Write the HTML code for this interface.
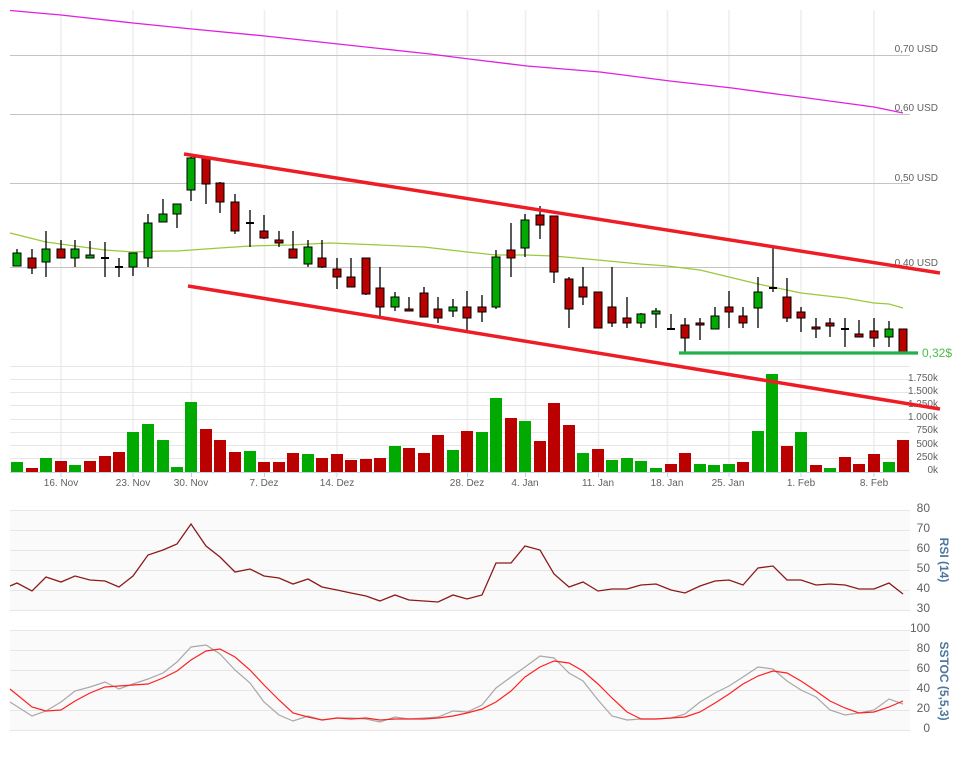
<!DOCTYPE html>
<html><head><meta charset="utf-8"><style>
html,body{margin:0;padding:0;background:#fff;}
svg{display:block;font-family:"Liberation Sans","DejaVu Sans",sans-serif;}
</style></head><body>
<svg width="968" height="765" viewBox="0 0 968 765" xmlns="http://www.w3.org/2000/svg">
<rect x="0" y="0" width="968" height="765" fill="#fff"/>
<!-- vertical grid -->
<g stroke="#eeeeee" stroke-width="1.5">
<path d="M61 10V472M133 10V472M191.5 10V472M264.5 10V472M337 10V472M467.5 10V472M525.5 10V472M598.5 10V472M667.5 10V472M729 10V472M801 10V472M874 10V472"/>
</g>
<!-- price grid -->
<g stroke="#c4c4c4" stroke-width="1">
<path d="M10 55.5H910M10 114.5H910M10 183.5H910M10 267.5H910"/>
</g>
<g fill="#606060" font-size="10">
<text x="938" y="52" text-anchor="end">0,70 USD</text>
<text x="938" y="111" text-anchor="end">0,60 USD</text>
<text x="938" y="181" text-anchor="end">0,50 USD</text>
<text x="938" y="266" text-anchor="end">0,40 USD</text>
</g>
<!-- volume grid -->
<g stroke="#e6e6e6" stroke-width="1">
<path d="M10 366.5H910M10 379.5H910M10 392.5H910M10 405.5H910M10 419.5H910M10 432.5H910M10 445.5H910M10 458.5H910"/>
</g>
<path d="M10 472.5H910" stroke="#c0d0e0" stroke-width="1"/>
<g stroke="#c0d0e0" stroke-width="1">
<path d="M61 472V477M133 472V477M191.5 472V477M264.5 472V477M337 472V477M467.5 472V477M525.5 472V477M598.5 472V477M667.5 472V477M729 472V477M801 472V477M874 472V477"/>
</g>
<g fill="#606060" font-size="10" text-anchor="end">
<text x="938" y="381">1.750k</text>
<text x="938" y="394">1.500k</text>
<text x="938" y="407">1.250k</text>
<text x="938" y="420">1.000k</text>
<text x="938" y="433">750k</text>
<text x="938" y="447">500k</text>
<text x="938" y="460">250k</text>
<text x="938" y="473">0k</text>
</g>
<!-- volume bars -->
<g fill="#00aa00">
<rect x="11" y="462" width="12" height="10"/>
<rect x="40" y="458" width="12" height="14"/>
<rect x="69" y="465" width="12" height="7"/>
<rect x="127" y="432" width="12" height="40"/>
<rect x="142" y="424" width="12" height="48"/>
<rect x="157" y="440" width="12" height="32"/>
<rect x="171" y="467" width="12" height="5"/>
<rect x="185" y="402" width="12" height="70"/>
<rect x="244" y="451" width="12" height="21"/>
<rect x="302" y="454" width="12" height="18"/>
<rect x="389" y="446" width="12" height="26"/>
<rect x="447" y="450" width="12" height="22"/>
<rect x="476" y="432" width="12" height="40"/>
<rect x="490" y="398" width="12" height="74"/>
<rect x="519" y="421" width="12" height="51"/>
<rect x="577" y="453" width="12" height="19"/>
<rect x="606" y="460" width="12" height="12"/>
<rect x="621" y="458" width="12" height="14"/>
<rect x="635" y="461" width="12" height="11"/>
<rect x="650" y="468" width="12" height="4"/>
<rect x="694" y="464" width="12" height="8"/>
<rect x="708" y="465" width="12" height="7"/>
<rect x="723" y="464" width="12" height="8"/>
<rect x="752" y="431" width="12" height="41"/>
<rect x="766" y="374" width="12" height="98"/>
<rect x="795" y="432" width="12" height="40"/>
<rect x="824" y="468" width="12" height="4"/>
<rect x="883" y="462" width="12" height="10"/>
</g>
<g fill="#bb0000">
<rect x="26" y="468" width="12" height="4"/>
<rect x="55" y="461" width="12" height="11"/>
<rect x="84" y="461" width="12" height="11"/>
<rect x="99" y="456" width="12" height="16"/>
<rect x="113" y="452" width="12" height="20"/>
<rect x="200" y="429" width="12" height="43"/>
<rect x="214" y="440" width="12" height="32"/>
<rect x="229" y="452" width="12" height="20"/>
<rect x="258" y="462" width="12" height="10"/>
<rect x="273" y="462" width="12" height="10"/>
<rect x="287" y="453" width="12" height="19"/>
<rect x="316" y="458" width="12" height="14"/>
<rect x="331" y="454" width="12" height="18"/>
<rect x="345" y="460" width="12" height="12"/>
<rect x="360" y="459" width="12" height="13"/>
<rect x="374" y="458" width="12" height="14"/>
<rect x="403" y="448" width="12" height="24"/>
<rect x="418" y="453" width="12" height="19"/>
<rect x="432" y="435" width="12" height="37"/>
<rect x="461" y="431" width="12" height="41"/>
<rect x="505" y="418" width="12" height="54"/>
<rect x="534" y="441" width="12" height="31"/>
<rect x="548" y="403" width="12" height="69"/>
<rect x="563" y="425" width="12" height="47"/>
<rect x="592" y="449" width="12" height="23"/>
<rect x="665" y="464" width="12" height="8"/>
<rect x="679" y="453" width="12" height="19"/>
<rect x="737" y="462" width="12" height="10"/>
<rect x="781" y="446" width="12" height="26"/>
<rect x="810" y="465" width="12" height="7"/>
<rect x="839" y="457" width="12" height="15"/>
<rect x="853" y="464" width="12" height="8"/>
<rect x="868" y="454" width="12" height="18"/>
<rect x="897" y="440" width="12" height="32"/>
</g>
<!-- x labels -->
<g fill="#606060" font-size="10" text-anchor="middle">
<text x="61" y="486">16. Nov</text>
<text x="133" y="486">23. Nov</text>
<text x="191" y="486">30. Nov</text>
<text x="264" y="486">7. Dez</text>
<text x="337" y="486">14. Dez</text>
<text x="467" y="486">28. Dez</text>
<text x="525" y="486">4. Jan</text>
<text x="598" y="486">11. Jan</text>
<text x="667" y="486">18. Jan</text>
<text x="728" y="486">25. Jan</text>
<text x="801" y="486">1. Feb</text>
<text x="874" y="486">8. Feb</text>
</g>
<!-- magenta long SMA -->
<polyline fill="none" stroke="#e020e0" stroke-width="1.3" points="10,10.5 61,15 133,23 192,29 265,36 338,44 430,54 469,59 527,66 600,72 670,81 732,88 784,95 800,97 874,107 903,113"/>
<!-- green SMA -->
<polyline fill="none" stroke="#99c93a" stroke-width="1.2" points="10,233 30,238 46,242 75,246 105,250 133,252 163,251 177,251 220,248 250,246 290,245 330,243 380,245 424,247 467,252 496,255 525,255 554,256 598,260 640,264 667,266 700,270 729,277 758,284 787,290 801,293 845,298 874,303 889,304 903,308"/>
<!-- wicks -->
<path fill="none" stroke="#000" stroke-width="1.3" d="M17 249V266M32 249V274M46 231V277M61 240V258M75 240V267M90 241V258M105 242V277M119 258V277M133 253V276M148 214V267M163 199V222M177 204V228M191 157V201M206 157V204M220 182V213M235 194V234M250 210V247M264 215V239M279 231V247M293 231V258M308 240V267M322 240V268M337 258V289M351 258V287M366 258V295M380 267V316M395 292V311M409 297V311M424 287V317M438 297V323M453 299V317M467 291V330M482 295V322M496 250V309M511 223V277M525 214V257M540 206V239M554 216V283M569 277V328M583 267V305M598 292V328M612 267V327M627 297V328M641 313V328M656 308V328M671 314V329M685 318V353M700 318V340M715 307V329M729 291V328M743 307V328M758 277V328M773 248V292M787 278V322M801 307V332M816 318V338M830 318V337M845 318V347M859 320V337M874 318V347M889 321V347"/>
<path fill="none" stroke="#000" stroke-width="2" d="M101 258H109M115 267H123M246 223H254M667 329H675M769 288H777M841 329H849"/>
<!-- green bodies -->
<g fill="#00aa00" stroke="#000" stroke-width="1">
<rect x="13" y="253" width="8" height="13"/>
<rect x="42" y="249" width="8" height="13"/>
<rect x="71" y="249" width="8" height="9"/>
<rect x="86" y="255" width="8" height="3"/>
<rect x="129" y="253" width="8" height="14"/>
<rect x="144" y="223" width="8" height="35"/>
<rect x="159" y="214" width="8" height="8"/>
<rect x="173" y="204" width="8" height="10"/>
<rect x="187" y="158" width="8" height="32"/>
<rect x="304" y="247" width="8" height="17"/>
<rect x="391" y="297" width="8" height="10"/>
<rect x="449" y="307" width="8" height="4"/>
<rect x="492" y="257" width="8" height="50"/>
<rect x="521" y="220" width="8" height="28"/>
<rect x="637" y="314" width="8" height="9"/>
<rect x="652" y="311" width="8" height="3"/>
<rect x="711" y="316" width="8" height="13"/>
<rect x="754" y="292" width="8" height="16"/>
<rect x="885" y="329" width="8" height="8"/>
</g>
<!-- red bodies -->
<g fill="#bb0000" stroke="#000" stroke-width="1">
<rect x="28" y="258" width="8" height="10"/>
<rect x="57" y="249" width="8" height="9"/>
<rect x="202" y="158" width="8" height="26"/>
<rect x="216" y="183" width="8" height="19"/>
<rect x="231" y="202" width="8" height="29"/>
<rect x="260" y="231" width="8" height="7"/>
<rect x="275" y="240" width="8" height="3"/>
<rect x="289" y="249" width="8" height="9"/>
<rect x="318" y="258" width="8" height="9"/>
<rect x="333" y="269" width="8" height="8"/>
<rect x="347" y="277" width="8" height="10"/>
<rect x="362" y="258" width="8" height="36"/>
<rect x="376" y="288" width="8" height="19"/>
<rect x="405" y="309" width="8" height="2"/>
<rect x="420" y="293" width="8" height="24"/>
<rect x="434" y="309" width="8" height="9"/>
<rect x="463" y="307" width="8" height="11"/>
<rect x="478" y="307" width="8" height="5"/>
<rect x="507" y="250" width="8" height="8"/>
<rect x="536" y="215" width="8" height="10"/>
<rect x="550" y="216" width="8" height="56"/>
<rect x="565" y="279" width="8" height="30"/>
<rect x="579" y="287" width="8" height="10"/>
<rect x="594" y="292" width="8" height="36"/>
<rect x="608" y="307" width="8" height="16"/>
<rect x="623" y="318" width="8" height="5"/>
<rect x="681" y="325" width="8" height="13"/>
<rect x="696" y="323" width="8" height="2"/>
<rect x="725" y="307" width="8" height="5"/>
<rect x="739" y="316" width="8" height="7"/>
<rect x="783" y="297" width="8" height="21"/>
<rect x="797" y="312" width="8" height="6"/>
<rect x="812" y="327" width="8" height="2"/>
<rect x="826" y="323" width="8" height="3"/>
<rect x="855" y="334" width="8" height="3"/>
<rect x="870" y="331" width="8" height="7"/>
<rect x="899" y="329" width="8" height="23"/>
</g>
<!-- channel lines -->
<g stroke="#ee1c25" stroke-width="3.5" stroke-linecap="butt">
<line x1="184" y1="154" x2="940" y2="273"/>
<line x1="188" y1="286" x2="940" y2="409"/>
</g>
<!-- support line -->
<line x1="679" y1="353" x2="918" y2="353" stroke="#22b14c" stroke-width="3.3"/>
<text x="922" y="357" fill="#4cbb4c" font-size="12">0,32$</text>

<!-- RSI panel -->
<rect x="10" y="510" width="900" height="101" fill="#fafafa"/>
<g stroke="#e6e6e6" stroke-width="1">
<path d="M10 510.5H910M10 530.5H910M10 550.5H910M10 570.5H910M10 590.5H910M10 610.5H910"/>
</g>
<polyline fill="none" stroke="#8b1a1a" stroke-width="1.3" points="10,586 17,583 32,591 46,577 61,582 75,576 90,580 105,581 119,587 133,576 148,555 163,550 177,544 191,524 206,546 220,557 235,572 250,569 264,576 279,578 293,584 308,579 322,587 337,590 351,593 366,596 380,601 395,595 409,600 424,601 438,602 453,595 467,599 482,595 496,563 511,563 525,546 540,550 554,574 569,587 583,582 598,591 612,589 627,589 641,585 656,584 671,590 685,593 700,586 715,581 729,580 743,585 758,568 773,566 787,580 801,580 816,585 830,584 845,585 859,589 874,589 889,583 903,594"/>
<g fill="#606060" font-size="12" text-anchor="end">
<text x="930" y="512">80</text>
<text x="930" y="532">70</text>
<text x="930" y="552">60</text>
<text x="930" y="572">50</text>
<text x="930" y="592">40</text>
<text x="930" y="612">30</text>
</g>
<text transform="translate(940,560) rotate(90)" text-anchor="middle" fill="#4d759e" font-size="12" font-weight="bold">RSI (14)</text>

<!-- SSTOC panel -->
<rect x="10" y="630" width="900" height="101" fill="#fafafa"/>
<g stroke="#e6e6e6" stroke-width="1">
<path d="M10 630.5H910M10 650.5H910M10 670.5H910M10 690.5H910M10 710.5H910M10 730.5H910"/>
</g>
<polyline fill="none" stroke="#a8a8a8" stroke-width="1.2" points="10,702 32,716 46,711 61,702 75,691 90,687 105,682 119,689 133,684 148,679 163,673 177,662 191,647 206,645 220,654 235,670 250,683 264,702 279,715 293,721 308,716 322,720 337,718 351,718 366,719 380,722 395,717 409,719 424,718 438,717 453,711 467,712 482,705 496,688 511,677 525,667 540,656 554,658 569,673 583,681 598,700 612,716 627,720 641,719 656,719 671,718 685,714 700,702 715,693 729,686 743,677 758,667 773,669 787,681 801,690 816,697 830,710 845,715 859,713 874,710 889,699 903,704"/>
<polyline fill="none" stroke="#ff2020" stroke-width="1.2" points="10,689 32,707 46,711 61,710 75,701 90,693 105,687 119,686 133,685 148,684 163,678 177,671 191,660 206,651 220,649 235,657 250,670 264,685 279,700 293,713 308,717 322,720 337,718 351,719 366,718 380,720 395,719 409,719 424,719 438,718 453,716 467,713 482,709 496,702 511,691 525,677 540,667 554,661 569,663 583,671 598,684 612,698 627,712 641,719 656,719 671,718 685,717 700,712 715,703 729,694 743,684 758,676 773,671 787,673 801,681 816,691 830,701 845,708 859,713 874,712 889,707 903,701"/>
<g fill="#606060" font-size="12" text-anchor="end">
<text x="930" y="632">100</text>
<text x="930" y="652">80</text>
<text x="930" y="672">60</text>
<text x="930" y="692">40</text>
<text x="930" y="712">20</text>
<text x="930" y="732">0</text>
</g>
<text transform="translate(940,681) rotate(90)" text-anchor="middle" fill="#4d759e" font-size="12" font-weight="bold">SSTOC (5,5,3)</text>
</svg>
</body></html>
